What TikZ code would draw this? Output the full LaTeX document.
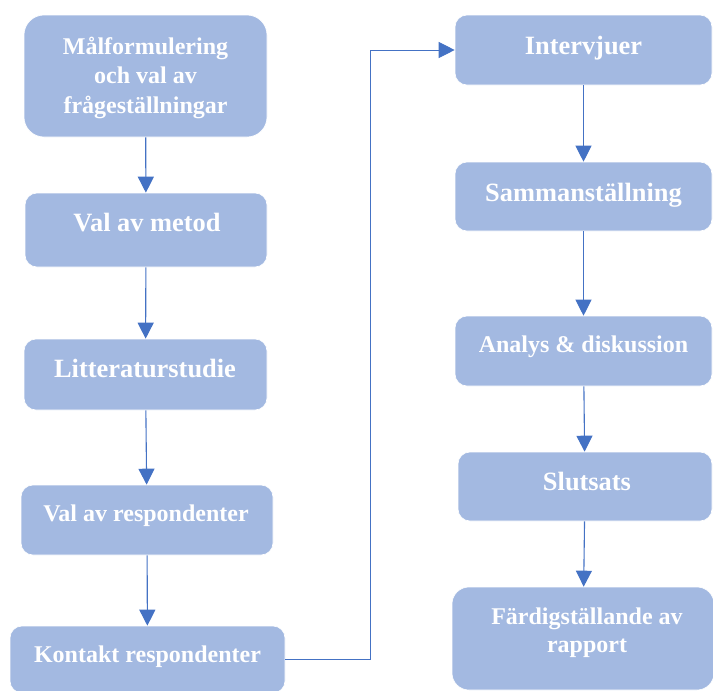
\documentclass[tikz,border=0pt]{standalone}
\usepackage{fontspec}
\setmainfont{Liberation Serif}
\usetikzlibrary{arrows.meta}
\definecolor{boxfill}{HTML}{A3B9E1}
\definecolor{arrcol}{HTML}{4472C4}
\tikzset{
  box/.style={draw=white, line width=0.6pt, fill=boxfill, rounded corners=12pt, inner sep=0pt},
  bigtxt/.style={text=white, font=\bfseries\fontsize{26.4}{30}\selectfont, inner sep=0pt, anchor=base, align=center},
  smalltxt/.style={text=white, font=\bfseries\fontsize{24}{29.5}\selectfont, inner sep=0pt, anchor=base, align=center},
  arr/.style={draw=arrcol, line width=1.1pt, -{Triangle[width=16pt,length=16pt]}},
}
\begin{document}
\begin{tikzpicture}[x=1pt,y=-1pt]
\useasboundingbox (0,0) rectangle (713,691);
\clip (0,0) rectangle (713,691);
% boxes
\node[box, rounded corners=20pt, minimum width=243pt, minimum height=122pt] (b1) at (145.5,76) {};
\node[box, minimum width=242pt, minimum height=74pt] (b2) at (146,230) {};
\node[box, minimum width=243pt, minimum height=71pt] (b3) at (145.5,374.5) {};
\node[box, minimum width=252pt, minimum height=70pt] (b4) at (147,520) {};
\node[box, minimum width=275pt, minimum height=67pt] (b5) at (147.5,659.5) {};
\node[box, minimum width=257pt, minimum height=70pt] (b6) at (583.5,50) {};
\node[box, minimum width=257pt, minimum height=69pt] (b7) at (583.5,196.5) {};
\node[box, minimum width=257pt, minimum height=70pt] (b8) at (583.5,351) {};
\node[box, minimum width=254pt, minimum height=69pt] (b9) at (585,486.5) {};
\node[box, rounded corners=17pt, minimum width=262pt, minimum height=103pt] (b10) at (583,638.5) {};
% texts (multi-line nodes: base = baseline of last line)
\node[smalltxt] (t1) at (145.5,113) {Målformulering\\och val av\\frågeställningar};
\node[bigtxt] (t2) at (147,231) {Val av metod};
\node[bigtxt] (t3) at (145,377) {Litteraturstudie};
\node[smalltxt] (t4) at (146,521) {Val av respondenter};
\node[smalltxt] (t5) at (147.5,662) {Kontakt respondenter};
\node[bigtxt] (t6) at (583.5,54) {Intervjuer};
\node[bigtxt] (t7) at (583.5,201) {Sammanställning};
\node[smalltxt] (t8) at (583.5,352) {Analys \& diskussion};
\node[bigtxt] (t9) at (587,490) {Slutsats};
\node[smalltxt, font=\bfseries\fontsize{24}{28}\selectfont] (t10) at (587,652) {Färdigställande av\\rapport};
% connectors
\draw[arr] (b1) -- (b2);
\draw[arr] (b2) -- (b3);
\draw[arr] (b3) -- (b4);
\draw[arr] (b4) -- (b5);
\draw[arr, line width=0.9pt] (b5.east) -- ++(85,0) |- (b6.west);
\draw[arr] (b6) -- (b7);
\draw[arr] (b7) -- (b8);
\draw[arr] (b8) -- (b9);
\draw[arr] (b9) -- (b10);
\end{tikzpicture}
\end{document}
